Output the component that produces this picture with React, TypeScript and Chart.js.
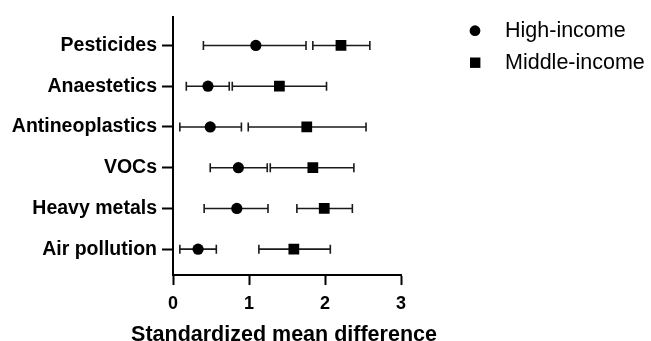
import React, { useEffect, useRef } from "react";
import { Chart, registerables } from "chart.js";

Chart.register(...registerables);

const categories = ["Pesticides", "Anaestetics", "Antineoplastics", "VOCs", "Heavy metals", "Air pollution"];
const highMean = [1.09, 0.46, 0.49, 0.86, 0.84, 0.33];
const highLow = [0.40, 0.175, 0.09, 0.49, 0.41, 0.09];
const highHigh = [1.75, 0.74, 0.90, 1.24, 1.25, 0.57];
const midMean = [2.21, 1.40, 1.76, 1.84, 1.99, 1.59];
const midLow = [1.84, 0.78, 0.99, 1.28, 1.63, 1.13];
const midHigh = [2.59, 2.02, 2.54, 2.38, 2.36, 2.07];
const xTicks = [0, 1, 2, 3];
const seriesNames = ["High-income", "Middle-income"];
const xTitle = "Standardized mean difference";

const FONT = "'Liberation Sans', Arial, Helvetica, sans-serif";

export default function App() {
  const ref = useRef<HTMLCanvasElement | null>(null);

  useEffect(() => {
    document.body.style.margin = "0";
    const canvas = ref.current;
    if (!canvas) return;

    const errorBars = {
      id: "errorBars",
      beforeDatasetsDraw(chart: any) {
        const ctx = chart.ctx;
        const xs = chart.scales.x;
        const ys = chart.scales.y;
        const draw = (lo: number[], hi: number[]) => {
          lo.forEach((l, i) => {
            const y = ys.getPixelForValue(i);
            const x1 = xs.getPixelForValue(l);
            const x2 = xs.getPixelForValue(hi[i]);
            ctx.save();
            ctx.strokeStyle = "#1a1a1a";
            ctx.lineWidth = 1.6;
            ctx.beginPath();
            ctx.moveTo(x1, y);
            ctx.lineTo(x2, y);
            ctx.moveTo(x1, y - 4.5);
            ctx.lineTo(x1, y + 4.5);
            ctx.moveTo(x2, y - 4.5);
            ctx.lineTo(x2, y + 4.5);
            ctx.stroke();
            ctx.restore();
          });
        };
        draw(highLow, highHigh);
        draw(midLow, midHigh);
      },
    };

    const extras = {
      id: "extras",
      afterDraw(chart: any) {
        const ctx = chart.ctx;
        const area = chart.chartArea;
        ctx.save();
        // x axis title
        ctx.fillStyle = "#000";
        ctx.font = `bold 21.5px ${FONT}`;
        ctx.textAlign = "center";
        ctx.textBaseline = "alphabetic";
        ctx.fillText(xTitle, (area.left + area.right) / 2 - 3, 341);
        // legend
        ctx.font = `21.5px ${FONT}`;
        ctx.textAlign = "left";
        ctx.textBaseline = "middle";
        ctx.beginPath();
        ctx.arc(475, 30.7, 5.4, 0, Math.PI * 2);
        ctx.fill();
        ctx.fillText(seriesNames[0], 505, 31);
        ctx.fillRect(470, 57.5, 10.4, 10.4);
        ctx.fillText(seriesNames[1], 505, 63);
        ctx.restore();
      },
    };

    const chart = new Chart(canvas, {
      type: "scatter",
      data: {
        datasets: [
          {
            label: seriesNames[0],
            data: highMean.map((v, i) => ({ x: v, y: i })),
            pointStyle: "circle",
            pointRadius: 5.6,
            backgroundColor: "#000",
            borderColor: "#000",
            borderWidth: 0,
          },
          {
            label: seriesNames[1],
            data: midMean.map((v, i) => ({ x: v, y: i })),
            pointStyle: "rect",
            pointRadius: 7.6,
            backgroundColor: "#000",
            borderColor: "#000",
            borderWidth: 0,
          },
        ],
      },
      options: {
        responsive: false,
        animation: false,
        events: [],
        layout: { padding: { top: 12, right: 250, bottom: 0, left: 0 } },
        plugins: {
          legend: { display: false },
          tooltip: { enabled: false },
          title: { display: false },
        },
        scales: {
          x: {
            type: "linear",
            min: 0,
            max: 3,
            afterBuildTicks: (axis: any) => {
              axis.ticks = xTicks.map((v) => ({ value: v }));
            },
            afterFit: (scale: any) => {
              scale.height = 66;
            },
            border: { display: true, color: "#000", width: 2 },
            grid: {
              drawOnChartArea: false,
              drawTicks: true,
              tickLength: 10,
              tickWidth: 2,
              tickColor: "#000",
            },
            ticks: {
              color: "#000",
              padding: 8,
              font: { family: FONT, size: 18, weight: "bold" },
            },
          },
          y: {
            type: "linear",
            reverse: true,
            min: -0.706,
            max: 5.634,
            afterBuildTicks: (axis: any) => {
              axis.ticks = categories.map((_, i) => ({ value: i }));
            },
            afterFit: (scale: any) => {
              scale.width = 173;
            },
            border: { display: true, color: "#000", width: 2 },
            grid: {
              drawOnChartArea: false,
              drawTicks: true,
              tickLength: 11,
              tickWidth: 2,
              tickColor: "#000",
            },
            ticks: {
              color: "#000",
              padding: 5,
              autoSkip: false,
              font: { family: FONT, size: 19.5, weight: "bold" },
              callback: (v: any) => categories[Math.round(Number(v))] ?? "",
            },
          },
        },
      },
      plugins: [errorBars, extras],
    });

    return () => chart.destroy();
  }, []);

  return (
    <div style={{ width: 651, height: 341, position: "relative", background: "#fff" }}>
      <canvas ref={ref} width={651} height={341} style={{ display: "block" }} />
    </div>
  );
}
